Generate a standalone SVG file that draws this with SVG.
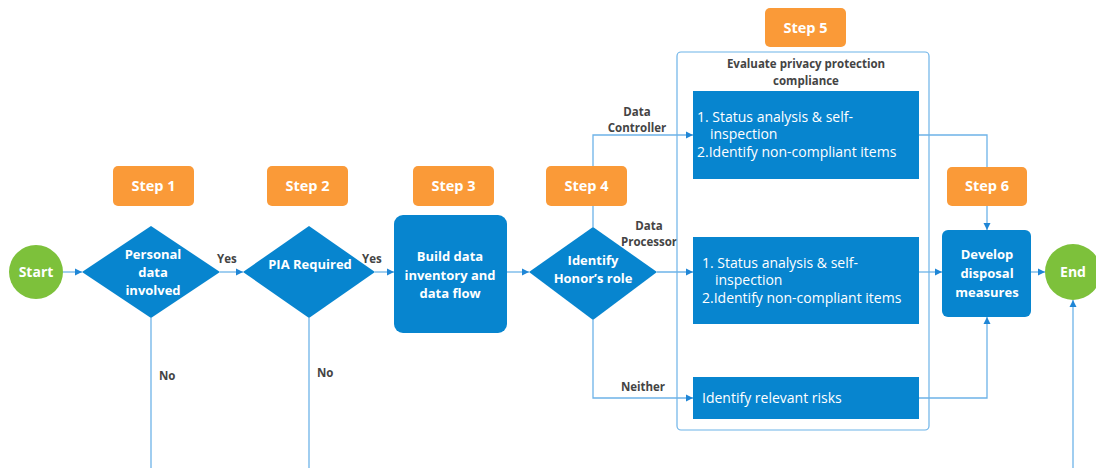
<svg xmlns="http://www.w3.org/2000/svg" width="1096" height="468" viewBox="0 0 1096 468">
<defs>
<marker id="ah" markerWidth="8" markerHeight="8" refX="7" refY="4" orient="auto" markerUnits="userSpaceOnUse">
<path d="M0,0.5 L7,4 L0,7.5 Z" fill="#1F86D6"/>
</marker>
<style>
.step{fill:#FA9A38}
.steptxt{font-family:"Open Sans","Liberation Sans",sans-serif;font-weight:bold;font-size:14.5px;fill:#fff;text-anchor:middle}
.node{fill:#0785CF}
.ntxt{font-family:"Open Sans","Liberation Sans",sans-serif;font-weight:bold;font-size:13px;fill:#fff;text-anchor:middle}
.btxt{font-family:"Open Sans","Liberation Sans",sans-serif;font-size:14px;fill:#fff}
.term{fill:#7DC13B}
.lbl{font-family:"Open Sans","Liberation Sans",sans-serif;font-weight:bold;font-size:11.5px;fill:#444}
.con{fill:none;stroke:#6DB3E8;stroke-width:1.3}
</style>
</defs>
<rect width="1096" height="468" fill="#fff"/>

<g id="connectors">
<path class="con" d="M63,272 H82" marker-end="url(#ah)"/>
<path class="con" d="M220,272 H243" marker-end="url(#ah)"/>
<path class="con" d="M375,272 H394" marker-end="url(#ah)"/>
<path class="con" d="M507,272 H529" marker-end="url(#ah)"/>
<path class="con" d="M593,227 V135 H693" marker-end="url(#ah)"/>
<path class="con" d="M657,272 H693" marker-end="url(#ah)"/>
<path class="con" d="M593,320 V398 H693" marker-end="url(#ah)"/>
<path class="con" d="M919,135 H987 V230" marker-end="url(#ah)"/>
<path class="con" d="M919,272 H942" marker-end="url(#ah)"/>
<path class="con" d="M919,398 H987 V317" marker-end="url(#ah)"/>
<path class="con" d="M1031,272 H1045" marker-end="url(#ah)"/>
<path class="con" d="M1073,468 V300" marker-end="url(#ah)"/>
<path class="con" d="M151,318 V468"/>
<path class="con" d="M309,318 V468"/>
<text class="lbl" x="217" y="263">Yes</text>
<text class="lbl" x="362" y="263">Yes</text>
<text class="lbl" x="159" y="380">No</text>
<text class="lbl" x="317" y="377">No</text>
<text class="lbl" x="637" y="116" text-anchor="middle">Data</text>
<text class="lbl" x="637" y="132" text-anchor="middle">Controller</text>
<text class="lbl" x="649" y="230" text-anchor="middle">Data</text>
<text class="lbl" x="649" y="246" text-anchor="middle">Processor</text>
<text class="lbl" x="643" y="391" text-anchor="middle">Neither</text>
</g>

<g id="start">
<circle class="term" cx="36" cy="272" r="27"/>
<text class="ntxt" x="36" y="277" style="font-size:14px">Start</text>
</g>

<g id="step1">
<rect class="step" x="113" y="166" width="81" height="40" rx="5"/>
<text class="steptxt" x="153.5" y="191">Step 1</text>
</g>
<g id="decision1">
<polygon class="node" points="82,272 151,226 220,272 151,318"/>
<text class="ntxt" x="153" y="259">Personal</text>
<text class="ntxt" x="153" y="277">data</text>
<text class="ntxt" x="153" y="295">involved</text>
</g>

<g id="step2">
<rect class="step" x="267" y="166" width="81" height="40" rx="5"/>
<text class="steptxt" x="307.5" y="191">Step 2</text>
</g>
<g id="decision2">
<polygon class="node" points="243,272 309,226 375,272 309,318"/>
<text class="ntxt" x="310" y="269">PIA Required</text>
</g>

<g id="step3">
<rect class="step" x="413" y="166" width="81" height="40" rx="5"/>
<text class="steptxt" x="453.5" y="191">Step 3</text>
</g>
<g id="build">
<rect class="node" x="394" y="215" width="113" height="118" rx="9"/>
<text class="ntxt" x="450" y="261">Build data</text>
<text class="ntxt" x="450" y="280">inventory and</text>
<text class="ntxt" x="450" y="298">data flow</text>
</g>

<g id="step4">
<rect class="step" x="546" y="166" width="81" height="40" rx="5"/>
<text class="steptxt" x="586.5" y="191">Step 4</text>
</g>
<g id="decision3">
<polygon class="node" points="529,272 593,227 657,272 593,320"/>
<text class="ntxt" x="593" y="265">Identify</text>
<text class="ntxt" x="593" y="283">Honor’s role</text>
</g>

<g id="step5">
<rect class="step" x="765" y="8" width="81" height="39" rx="5"/>
<text class="steptxt" x="805.5" y="33">Step 5</text>
</g>
<g id="evaluate">
<rect x="677" y="52" width="252" height="378" rx="4" fill="none" stroke="#6DB3E8" stroke-width="1.2"/>
<text class="lbl" x="806" y="68" text-anchor="middle">Evaluate privacy protection</text>
<text class="lbl" x="806" y="85" text-anchor="middle">compliance</text>
</g>
<g id="box-controller">
<rect class="node" x="693" y="91" width="226" height="88"/>
<text class="btxt" x="697" y="122">1. Status analysis &amp; self-</text>
<text class="btxt" x="710" y="139">inspection</text>
<text class="btxt" x="697" y="157">2.Identify non-compliant items</text>
</g>
<g id="box-processor">
<rect class="node" x="693" y="237" width="226" height="87"/>
<text class="btxt" x="702" y="268">1. Status analysis &amp; self-</text>
<text class="btxt" x="715" y="285">inspection</text>
<text class="btxt" x="702" y="303">2.Identify non-compliant items</text>
</g>
<g id="box-neither">
<rect class="node" x="693" y="377" width="226" height="42"/>
<text class="btxt" x="702" y="403">Identify relevant risks</text>
</g>

<g id="step6">
<rect class="step" x="947" y="167" width="80" height="39" rx="5"/>
<text class="steptxt" x="987" y="191">Step 6</text>
</g>
<g id="develop">
<rect class="node" x="942" y="230" width="89" height="87" rx="6"/>
<text class="ntxt" x="987" y="259">Develop</text>
<text class="ntxt" x="987" y="278">disposal</text>
<text class="ntxt" x="987" y="297">measures</text>
</g>

<g id="end">
<circle class="term" cx="1073" cy="272" r="28"/>
<text class="ntxt" x="1073" y="277" style="font-size:14px">End</text>
</g>
</svg>
